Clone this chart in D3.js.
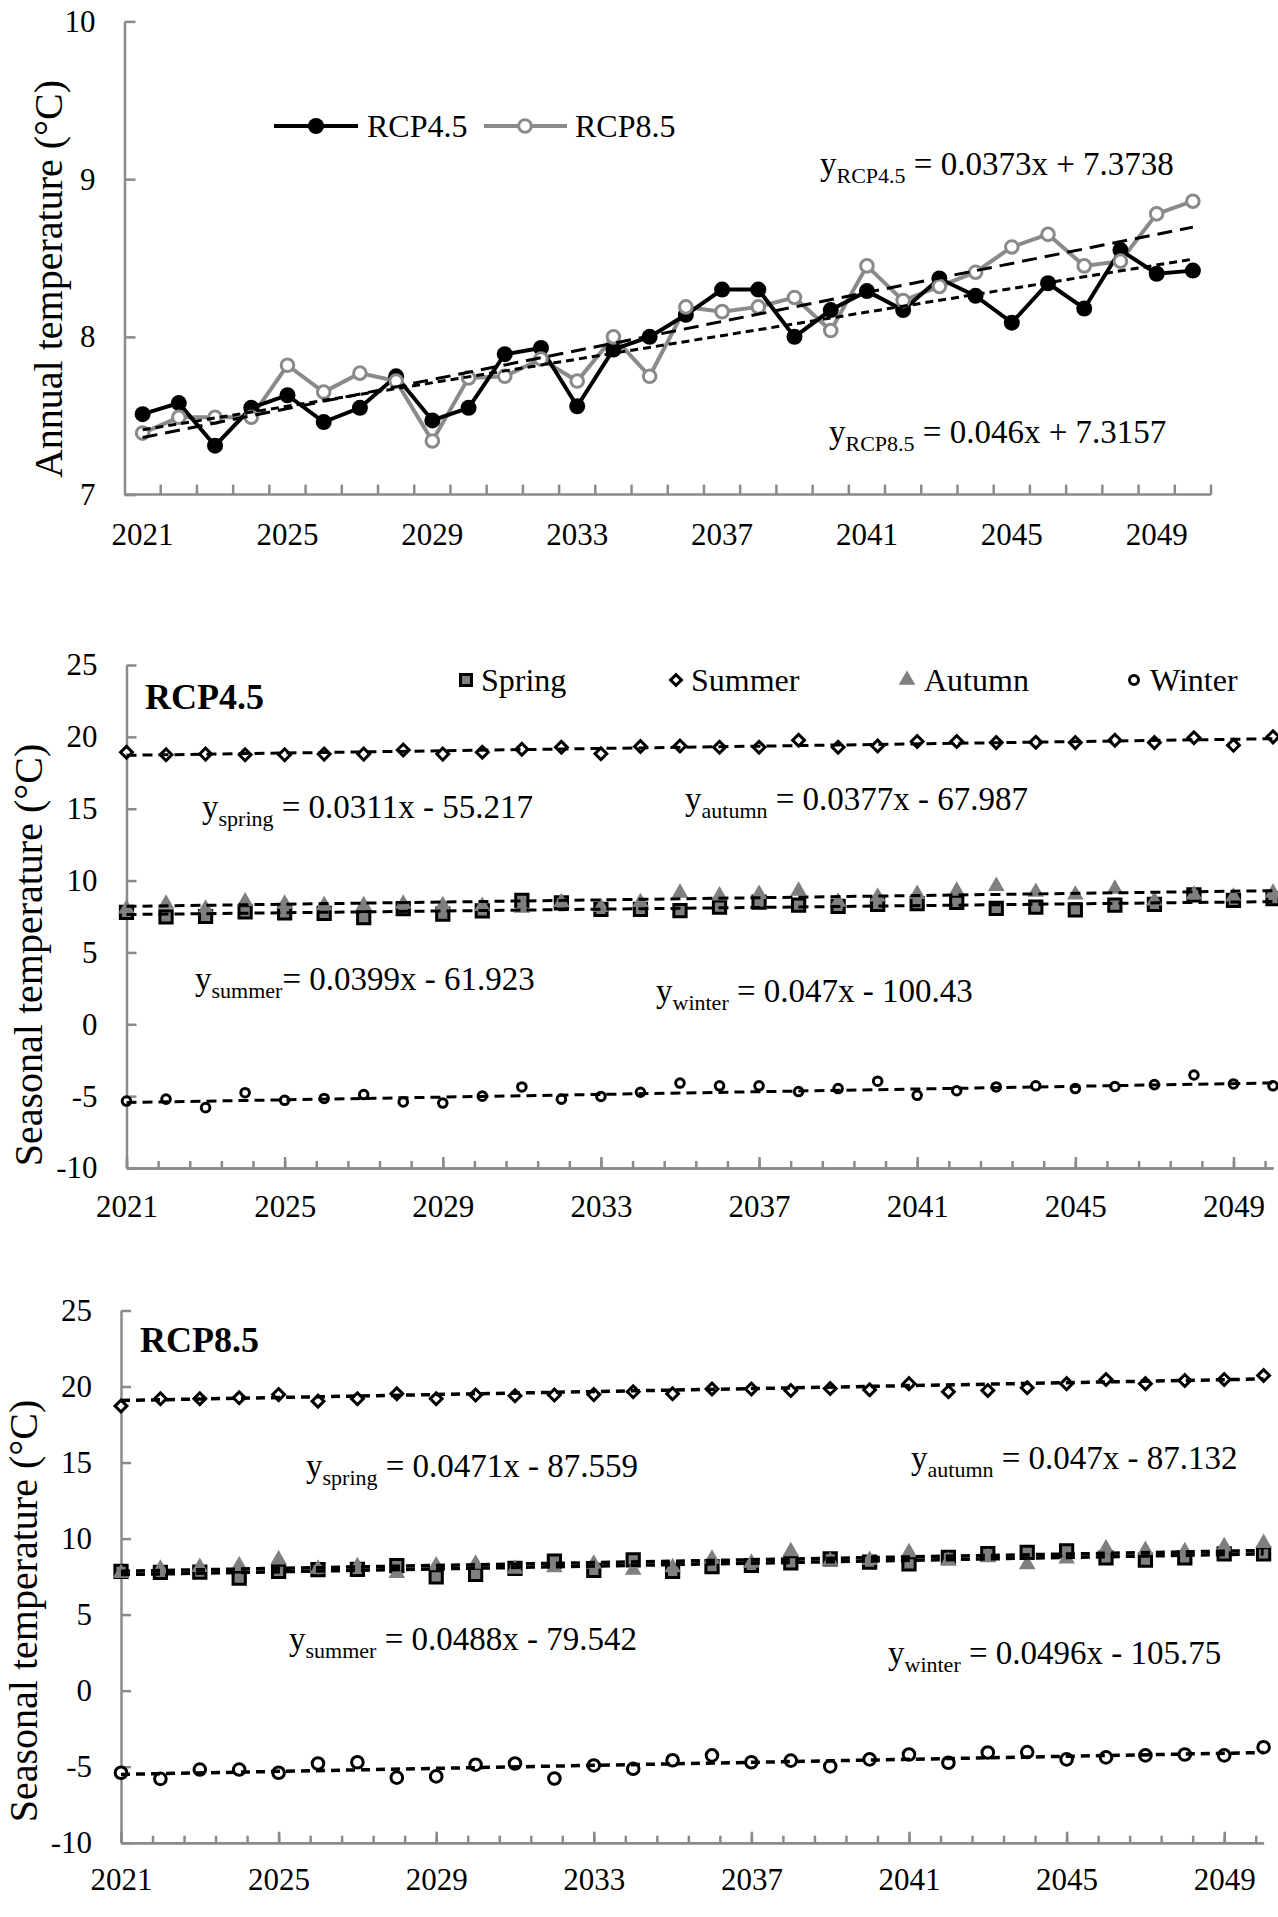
<!DOCTYPE html>
<html lang="en">
<head>
<meta charset="UTF-8">
<title>Annual and seasonal temperature, RCP4.5 and RCP8.5</title>
<script src="https://cdnjs.cloudflare.com/ajax/libs/d3/7.8.5/d3.min.js"></script>
<style>
  body { margin: 0; background: #fff; }
  svg text { font-family: "Times New Roman", "Liberation Serif", serif; fill: #000; }
  .axis path, .axis line { stroke: #8a8a8a; stroke-width: 2.5; }
  .axis text { font-size: 31px; font-family: "Times New Roman", "Liberation Serif", serif; fill: #000; }
</style>
</head>
<body>
<svg id="chart" width="1278" height="1917"></svg>
<script>
// ---- data ----
const years = [2021, 2022, 2023, 2024, 2025, 2026, 2027, 2028, 2029, 2030,
               2031, 2032, 2033, 2034, 2035, 2036, 2037, 2038, 2039, 2040,
               2041, 2042, 2043, 2044, 2045, 2046, 2047, 2048, 2049, 2050];
const yearLabels = [2021, 2025, 2029, 2033, 2037, 2041, 2045, 2049];

// annual mean temperature
const annualRCP45 = [7.51, 7.58, 7.31, 7.55, 7.63, 7.46, 7.55, 7.75, 7.47, 7.55,
                     7.89, 7.93, 7.56, 7.92, 8.00, 8.14, 8.30, 8.30, 8.00, 8.17,
                     8.29, 8.17, 8.37, 8.26, 8.09, 8.34, 8.18, 8.55, 8.40, 8.42];
const annualRCP85 = [7.39, 7.49, 7.49, 7.49, 7.82, 7.65, 7.77, 7.72, 7.34, 7.74,
                     7.75, 7.86, 7.72, 8.00, 7.75, 8.19, 8.16, 8.19, 8.25, 8.04,
                     8.45, 8.23, 8.32, 8.41, 8.57, 8.65, 8.45, 8.48, 8.78, 8.86];
const annualTicks = [7, 8, 9, 10];
// trend: y = a*x + b, x = 1..30
const trendRCP45 = [0.0373, 7.3738];
const trendRCP85 = [0.046, 7.3157];

// seasonal, RCP4.5
const springRCP45 = [7.78, 7.48, 7.50, 7.82, 7.75, 7.71, 7.43, 8.05, 7.66, 7.89,
                     8.62, 8.44, 8.00, 8.00, 7.91, 8.15, 8.50, 8.29, 8.21, 8.34,
                     8.40, 8.48, 8.07, 8.15, 7.96, 8.29, 8.34, 9.00, 8.62, 8.75];
const summerRCP45 = [18.93, 18.75, 18.80, 18.75, 18.75, 18.80, 18.80, 19.09, 18.80, 18.93,
                     19.14, 19.28, 18.82, 19.33, 19.36, 19.28, 19.28, 19.76, 19.28, 19.36,
                     19.68, 19.68, 19.60, 19.62, 19.60, 19.76, 19.60, 19.94, 19.41, 20.00];
const autumnRCP45 = [8.04, 8.38, 8.04, 8.54, 8.38, 8.27, 8.27, 8.38, 8.27, 8.22,
                     8.10, 8.49, 8.15, 8.49, 9.14, 8.95, 9.06, 9.28, 8.52, 8.87,
                     9.06, 9.28, 9.61, 9.20, 9.01, 9.42, 8.60, 9.01, 8.87, 9.14];
const winterRCP45 = [-5.34, -5.21, -5.80, -4.76, -5.29, -5.16, -4.89, -5.40, -5.48, -5.00,
                     -4.36, -5.21, -5.02, -4.73, -4.09, -4.28, -4.28, -4.68, -4.47, -3.96,
                     -4.94, -4.62, -4.36, -4.28, -4.47, -4.33, -4.20, -3.53, -4.15, -4.28];
// trend: y = a*year + b
const seasonTrendRCP45 = { spring: [0.0311, -55.217], summer: [0.0399, -61.923],
                           autumn: [0.0377, -67.987], winter: [0.047, -100.43] };

// seasonal, RCP8.5
const springRCP85 = [7.84, 7.78, 7.80, 7.40, 7.84, 7.96, 7.98, 8.22, 7.49, 7.64,
                     8.04, 8.51, 7.91, 8.60, 7.85, 8.15, 8.23, 8.40, 8.66, 8.46,
                     8.33, 8.76, 9.01, 9.09, 9.19, 8.73, 8.58, 8.73, 8.99, 8.99];
const summerRCP85 = [18.72, 19.20, 19.20, 19.26, 19.47, 19.04, 19.20, 19.52, 19.20, 19.44,
                     19.39, 19.44, 19.47, 19.66, 19.52, 19.84, 19.84, 19.74, 19.87, 19.79,
                     20.19, 19.66, 19.74, 19.92, 20.19, 20.46, 20.19, 20.40, 20.46, 20.73];
const autumnRCP85 = [7.72, 8.01, 8.12, 8.23, 8.61, 8.01, 8.17, 7.72, 8.23, 8.34,
                     8.01, 8.10, 8.34, 7.94, 8.10, 8.66, 8.40, 9.16, 8.53, 8.58,
                     9.09, 8.53, 8.76, 8.30, 8.68, 9.34, 9.24, 9.16, 9.49, 9.70];
const winterRCP85 = [-5.40, -5.80, -5.19, -5.19, -5.40, -4.79, -4.71, -5.72, -5.64, -4.87,
                     -4.79, -5.78, -4.92, -5.14, -4.58, -4.26, -4.71, -4.60, -4.98, -4.52,
                     -4.20, -4.74, -4.07, -4.04, -4.52, -4.39, -4.26, -4.20, -4.26, -3.72];
const seasonTrendRCP85 = { spring: [0.0471, -87.559], summer: [0.0488, -79.542],
                           autumn: [0.047, -87.132], winter: [0.0496, -105.75] };
const seasonTicks = [-10, -5, 0, 5, 10, 15, 20, 25];

const svg = d3.select("#chart");
const GRAY = "#8a8a8a";
const MARK_GRAY = "#7f7f7f";
const plain = d => String(d);   // keeps "-10" with a hyphen like the original

// equation with subscript: y_sub = rest
function equation(x, y, sub, rest) {
    const t = svg.append("text").attr("x", x).attr("y", y).style("font-size", "33px");
    t.append("tspan").text("y");
    t.append("tspan").attr("dy", 8).style("font-size", "22px").text(sub);
    t.append("tspan").attr("dy", -8).text(rest);
}

function yTitle(x, y, label) {
    svg.append("text")
        .attr("transform", `translate(${x},${y}) rotate(-90)`)
        .attr("text-anchor", "middle")
        .style("font-size", "40px")
        .text(label);
}

// =============== panel 1: annual temperature ===============
const x1 = d3.scaleBand().domain(years).range([124.5, 1211]);
const y1 = d3.scaleLinear().domain([7, 10]).range([494.6, 21.4]);
const cx1 = d => x1(d) + x1.bandwidth() / 2;

const g1 = svg.append("g");

// y axis, ticks pointing inward
g1.append("g").attr("class", "axis")
    .attr("transform", `translate(${x1.range()[0]},0)`)
    .call(d3.axisLeft(y1).tickValues(annualTicks).tickFormat(plain)
        .tickSizeInner(-11).tickSizeOuter(0).tickPadding(29));

// x axis: ticks between categories, labels every four years
const ax1 = g1.append("g").attr("class", "axis");
ax1.append("line")
    .attr("x1", x1.range()[0]).attr("x2", x1.range()[1])
    .attr("y1", y1(7)).attr("y2", y1(7));
years.forEach(yr => {
    ax1.append("line")
        .attr("x1", x1(yr) + x1.bandwidth()).attr("x2", x1(yr) + x1.bandwidth())
        .attr("y1", y1(7)).attr("y2", y1(7) - 10);
});
ax1.selectAll("text.xl").data(yearLabels).join("text")
    .attr("class", "xl")
    .attr("x", d => cx1(d)).attr("y", y1(7) + 50)
    .attr("text-anchor", "middle")
    .text(d => d);

const line1 = d3.line().x((d, i) => cx1(years[i])).y(d => y1(d));

g1.append("path").datum(annualRCP85).attr("d", line1)
    .attr("fill", "none").attr("stroke", GRAY).attr("stroke-width", 4);
g1.append("path").datum(annualRCP45).attr("d", line1)
    .attr("fill", "none").attr("stroke", "#000").attr("stroke-width", 4);

g1.selectAll("circle.r45").data(annualRCP45).join("circle")
    .attr("class", "r45")
    .attr("cx", (d, i) => cx1(years[i])).attr("cy", d => y1(d))
    .attr("r", 8).attr("fill", "#000");
g1.selectAll("circle.r85").data(annualRCP85).join("circle")
    .attr("class", "r85")
    .attr("cx", (d, i) => cx1(years[i])).attr("cy", d => y1(d))
    .attr("r", 6.3).attr("fill", "#fff").attr("stroke", GRAY).attr("stroke-width", 3);

// trend lines (x = 1..30)
function annualTrend(coef, dash) {
    const n = years.length;
    g1.append("line")
        .attr("x1", cx1(years[0])).attr("y1", y1(coef[0] * 1 + coef[1]))
        .attr("x2", cx1(years[n - 1])).attr("y2", y1(coef[0] * n + coef[1]))
        .attr("stroke", "#000").attr("stroke-width", 3).attr("stroke-dasharray", dash);
}
annualTrend(trendRCP45, "8,5");
annualTrend(trendRCP85, "15,8");

// legend
const leg1 = g1.append("g");
leg1.append("line").attr("x1", 274).attr("x2", 358).attr("y1", 126).attr("y2", 126)
    .attr("stroke", "#000").attr("stroke-width", 4);
leg1.append("circle").attr("cx", 316).attr("cy", 126).attr("r", 8).attr("fill", "#000");
leg1.append("text").attr("x", 367).attr("y", 137).style("font-size", "32px").text("RCP4.5");
leg1.append("line").attr("x1", 484).attr("x2", 567).attr("y1", 126).attr("y2", 126)
    .attr("stroke", GRAY).attr("stroke-width", 4);
leg1.append("circle").attr("cx", 525).attr("cy", 126).attr("r", 6.3)
    .attr("fill", "#fff").attr("stroke", GRAY).attr("stroke-width", 3);
leg1.append("text").attr("x", 575).attr("y", 137).style("font-size", "32px").text("RCP8.5");

equation(820, 175, "RCP4.5", " = 0.0373x + 7.3738");
equation(829, 443, "RCP8.5", " = 0.046x + 7.3157");
yTitle(62, 279, "Annual temperature (°C)");

// =============== seasonal panels ===============
const markers = {
    spring: { sym: d3.symbol(d3.symbolSquare, 150)(), fill: MARK_GRAY, stroke: "#000", sw: 3, rot: 0 },
    summer: { sym: d3.symbol(d3.symbolSquare, 70)(), fill: "#fff", stroke: "#000", sw: 3, rot: 45 },
    autumn: { sym: d3.symbol(d3.symbolTriangle, 120)(), fill: MARK_GRAY, stroke: "none", sw: 0, rot: 0 }
};

function seasonalPanel(cfg) {
    const x = d3.scaleLinear().domain([2021, 2050]).range(cfg.xr);
    const y = d3.scaleLinear().domain([-10, 25]).range(cfg.yr);
    const g = svg.append("g");
    const axisY = cfg.yr[0];

    g.append("g").attr("class", "axis")
        .attr("transform", `translate(${cfg.xr[0]},0)`)
        .call(d3.axisLeft(y).tickValues(seasonTicks).tickFormat(plain)
            .tickSizeInner(-10).tickSizeOuter(0).tickPadding(29));

    const minor = d3.range(0, 37).map(k => 2021 + k * 0.8);
    g.append("g").attr("class", "axis")
        .attr("transform", `translate(0,${axisY})`)
        .call(d3.axisBottom(x).tickValues(minor).tickSizeInner(-7).tickSizeOuter(0).tickFormat(""));
    g.append("g").attr("class", "axis")
        .attr("transform", `translate(0,${axisY})`)
        .call(d3.axisBottom(x).tickValues(yearLabels).tickSizeInner(-11).tickSizeOuter(0)
            .tickPadding(cfg.labelPad).tickFormat(plain));

    const place = (d, i) => `translate(${x(years[i])},${y(d)})`;

    [["spring", cfg.spring], ["summer", cfg.summer], ["autumn", cfg.autumn]].forEach(([k, vals]) => {
        const m = markers[k];
        g.selectAll("path." + k).data(vals).join("path")
            .attr("class", k)
            .attr("d", m.sym)
            .attr("transform", (d, i) => place(d, i) + ` rotate(${m.rot})`)
            .attr("fill", m.fill).attr("stroke", m.stroke).attr("stroke-width", m.sw);
    });
    g.selectAll("circle.winter").data(cfg.winter).join("circle")
        .attr("class", "winter")
        .attr("cx", (d, i) => x(years[i])).attr("cy", d => y(d))
        .attr("r", cfg.winterR).attr("fill", "#fff").attr("stroke", "#000").attr("stroke-width", 3);

    // trend lines over the markers
    Object.values(cfg.trend).forEach(c => {
        g.append("line")
            .attr("x1", x(2021)).attr("y1", y(c[0] * 2021 + c[1]))
            .attr("x2", x(2050)).attr("y2", y(c[0] * 2050 + c[1]))
            .attr("stroke", "#000").attr("stroke-width", cfg.trendW).attr("stroke-dasharray", cfg.dash);
    });

    svg.append("text").attr("x", cfg.title[0]).attr("y", cfg.title[1])
        .style("font-size", "36px").style("font-weight", "bold").text(cfg.name);
    yTitle(cfg.yLabel[0], cfg.yLabel[1], "Seasonal temperature (°C)");
    cfg.eqs.forEach(e => equation(e[0], e[1], e[2], e[3]));
}

seasonalPanel({
    name: "RCP4.5", xr: [126.5, 1273], yr: [1168, 665], labelPad: 27,
    spring: springRCP45, summer: summerRCP45, autumn: autumnRCP45, winter: winterRCP45,
    trend: seasonTrendRCP45, winterR: 4.3, dash: "10,6", trendW: 3,
    title: [145, 709], yLabel: [42, 955],
    eqs: [[202, 818, "spring", " = 0.0311x - 55.217"],
          [195, 990, "summer", "= 0.0399x - 61.923"],
          [685, 810, "autumn", " = 0.0377x - 67.987"],
          [656, 1002, "winter", " = 0.047x - 100.43"]]
});

seasonalPanel({
    name: "RCP8.5", xr: [121, 1263.6], yr: [1842.7, 1310.5], labelPad: 25,
    spring: springRCP85, summer: summerRCP85, autumn: autumnRCP85, winter: winterRCP85,
    trend: seasonTrendRCP85, winterR: 5.8, dash: "9,6", trendW: 3.5,
    title: [140, 1352], yLabel: [37, 1611],
    eqs: [[306, 1477, "spring", " = 0.0471x - 87.559"],
          [289, 1650, "summer", " = 0.0488x - 79.542"],
          [911, 1469, "autumn", " = 0.047x - 87.132"],
          [888, 1664, "winter", " = 0.0496x - 105.75"]]
});

// legend for the RCP4.5 seasonal panel
const leg2 = svg.append("g");
const legItems = [
    { k: "spring", label: "Spring", mx: 466, tx: 481 },
    { k: "summer", label: "Summer", mx: 676, tx: 691 },
    { k: "autumn", label: "Autumn", mx: 907, tx: 924 },
    { k: "winter", label: "Winter", mx: 1134, tx: 1150 }
];
legItems.forEach(it => {
    if (it.k === "winter") {
        leg2.append("circle").attr("cx", it.mx).attr("cy", 680).attr("r", 4.5)
            .attr("fill", "#fff").attr("stroke", "#000").attr("stroke-width", 3);
    } else {
        const m = markers[it.k];
        const size = it.k === "summer" ? 60 : 120;
        const sym = it.k === "autumn" ? d3.symbolTriangle : d3.symbolSquare;
        leg2.append("path").attr("d", d3.symbol(sym, size)())
            .attr("transform", `translate(${it.mx},680) rotate(${m.rot})`)
            .attr("fill", m.fill).attr("stroke", m.stroke).attr("stroke-width", m.sw);
    }
    leg2.append("text").attr("x", it.tx).attr("y", 691).style("font-size", "32px").text(it.label);
});
</script>
</body>
</html>
